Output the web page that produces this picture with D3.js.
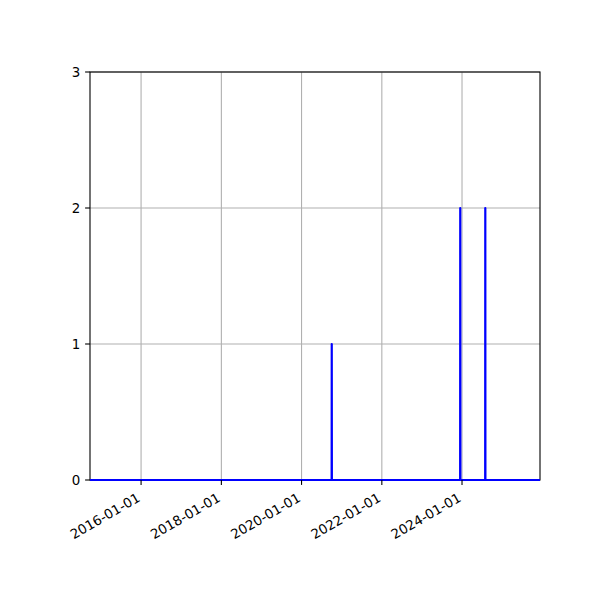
<!DOCTYPE html>
<html>
<head>
<meta charset="utf-8">
<script src="https://cdn.jsdelivr.net/npm/d3@7"></script>
<style>
  body { margin: 0; background: #fff; }
  svg { display: block; font-family: "DejaVu Sans", sans-serif; }
</style>
</head>
<body>
<svg id="chart" width="600" height="600"></svg>
<script>
// Data
const dates = ["2014-09-23", "2020-10-01", "2020-10-02", "2020-10-03",
               "2023-12-15", "2023-12-16", "2023-12-17",
               "2024-07-30", "2024-07-31", "2024-08-01", "2025-12-11"];
const values = [0, 0, 1, 0, 0, 2, 0, 0, 2, 0, 0];
const xTickDates = ["2016-01-01", "2018-01-01", "2020-01-01", "2022-01-01", "2024-01-01"];
const yTicks = [0, 1, 2, 3];

(function () {
const parse = d3.utcParse("%Y-%m-%d");
const fmt = d3.utcFormat("%Y-%m-%d");
const data = dates.map((d, i) => ({ date: parse(d), value: values[i] }));

const mL = 90, mR = 540, mT = 72, mB = 480;
const svg = d3.select("#chart");

const x = d3.scaleUtc()
  .domain([parse(dates[0]), parse(dates[dates.length - 1])])
  .range([mL, mR]);
const y = d3.scaleLinear().domain([0, 3]).range([mB, mT]);

// Grid
const grid = svg.append("g");
xTickDates.forEach(d => {
  const px = x(parse(d));
  grid.append("line").attr("x1", px).attr("x2", px).attr("y1", mT).attr("y2", mB)
    .attr("stroke", "#b0b0b0").attr("stroke-width", 1.1);
});
yTicks.forEach(v => {
  grid.append("line").attr("x1", mL).attr("x2", mR).attr("y1", y(v)).attr("y2", y(v))
    .attr("stroke", "#b0b0b0").attr("stroke-width", 1.1);
});

// Spines
svg.append("rect").attr("x", mL).attr("y", mT).attr("width", mR - mL).attr("height", mB - mT)
  .attr("fill", "none").attr("stroke", "#000").attr("stroke-width", 1.1);

// Line
svg.append("defs").append("clipPath").attr("id", "clip")
  .append("rect").attr("x", mL).attr("y", mT - 2).attr("width", mR - mL).attr("height", mB - mT + 4);
const line = d3.line().x(d => x(d.date)).y(d => y(d.value));
svg.append("path").datum(data).attr("d", line)
  .attr("fill", "none").attr("stroke", "#0000ff").attr("stroke-width", 2.2)
  .attr("stroke-linejoin", "round").attr("clip-path", "url(#clip)");

// X axis ticks and labels
const xa = svg.append("g");
xTickDates.forEach(d => {
  const px = x(parse(d));
  xa.append("line").attr("x1", px).attr("x2", px).attr("y1", mB).attr("y2", mB + 4.9)
    .attr("stroke", "#000").attr("stroke-width", 1.1);
  xa.append("text")
    .attr("transform", `translate(${px},${mB + 20.5}) rotate(-30)`)
    .attr("text-anchor", "end")
    .attr("font-size", 13.4)
    .attr("fill", "#000")
    .text(fmt(parse(d)));
});

// Y axis ticks and labels
const ya = svg.append("g");
yTicks.forEach(v => {
  const py = y(v);
  ya.append("line").attr("x1", mL - 4.9).attr("x2", mL).attr("y1", py).attr("y2", py)
    .attr("stroke", "#000").attr("stroke-width", 1.1);
  ya.append("text")
    .attr("x", mL - 9.8).attr("y", py)
    .attr("dy", "0.35em")
    .attr("text-anchor", "end")
    .attr("font-size", 13.4)
    .attr("fill", "#000")
    .text(v);
});
})();
</script>
</body>
</html>
